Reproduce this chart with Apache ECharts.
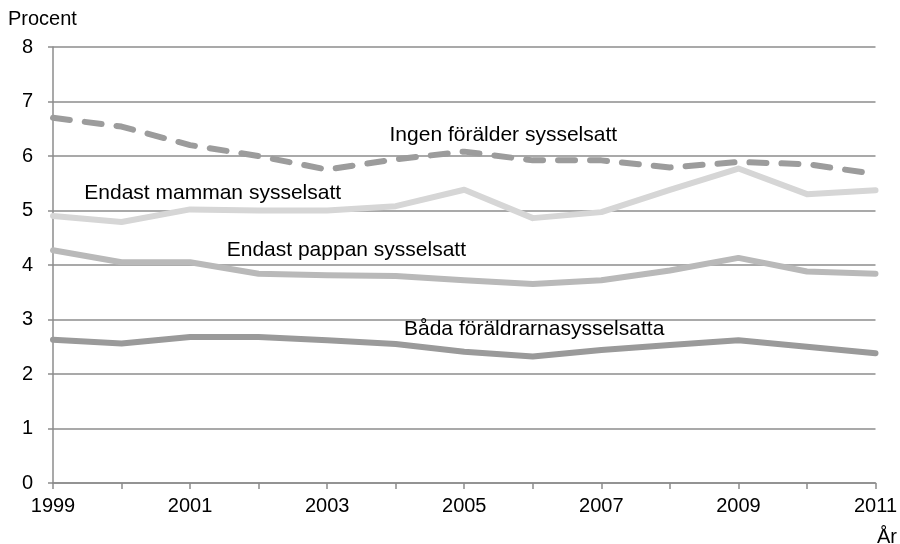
<!DOCTYPE html>
<html>
	<head>
		<meta charset="utf-8">
		<script src="https://cdn.jsdelivr.net/npm/echarts@6/dist/echarts.min.js"></script>
		<style>
			html, body { margin: 0; padding: 0; background: #fff; }
			#chart { width: 900px; height: 544px; }
		</style>
	</head>
	<body>
		<div id="chart"></div>
		<script>
			// år
			var years = [1999, 2000, 2001, 2002, 2003, 2004, 2005, 2006, 2007, 2008, 2009, 2010, 2011];
			// serier (procent)
			var ingen  = [6.70, 6.54, 6.20, 6.00, 5.75, 5.94, 6.08, 5.92, 5.92, 5.79, 5.89, 5.85, 5.67];
			var mamman = [4.90, 4.79, 5.02, 5.00, 5.00, 5.08, 5.38, 4.86, 4.97, 5.38, 5.77, 5.30, 5.37];
			var pappan = [4.27, 4.05, 4.05, 3.84, 3.81, 3.80, 3.72, 3.65, 3.72, 3.90, 4.13, 3.88, 3.84];
			var bada   = [2.63, 2.56, 2.68, 2.68, 2.62, 2.55, 2.41, 2.32, 2.44, 2.53, 2.62, 2.50, 2.38];
			var yTicks = [0, 1, 2, 3, 4, 5, 6, 7, 8];

			var names = ['Ingen förälder sysselsatt', 'Endast mamman sysselsatt', 'Endast pappan sysselsatt', 'Båda föräldrarnasysselsatta'];
			// var etiketterna står (år, procent)
			var labelAt = [[2005.57, 6.38], [2001.33, 5.32], [2003.28, 4.27], [2006.02, 2.82]];

			var font = 'Liberation Sans, Arial, sans-serif';

			function pairs(vals) {
				var out = [];
				for (var i = 0; i < years.length; i++) out.push([years[i], vals[i]]);
				return out;
			}

			function mark(i) {
				return {
					silent: true,
					symbol: 'rect',
					symbolSize: 1,
					itemStyle: { color: 'rgba(0,0,0,0)' },
					label: { show: true, position: 'inside', formatter: names[i], color: '#000', fontSize: 21, fontFamily: font },
					data: [{ coord: labelAt[i] }]
				};
			}

			function line(i, vals, color, dash) {
				return {
					name: names[i],
					type: 'line',
					data: pairs(vals),
					symbol: 'none',
					animation: false,
					lineStyle: { color: color, width: 6, type: dash ? [17, 15] : 'solid', cap: 'round', join: 'round' },
					markPoint: mark(i)
				};
			}

			var chart = echarts.init(document.getElementById('chart'));
			chart.setOption({
				animation: false,
				textStyle: { fontFamily: font },
				grid: { left: 53, right: 21, top: 47, bottom: 61 },
				xAxis: {
					type: 'value',
					min: years[0],
					max: years[years.length - 1],
					interval: 1,
					splitLine: { show: false },
					axisLine: { lineStyle: { color: '#8c8c8c', width: 1.5 } },
					axisTick: { show: true, length: 6, lineStyle: { color: '#8c8c8c', width: 1.5 } },
					axisLabel: {
						color: '#000', fontSize: 20, margin: 13,
						formatter: function (v) { return (v % 2 === 1) ? String(v) : ''; }
					}
				},
				yAxis: {
					type: 'value',
					min: yTicks[0],
					max: yTicks[yTicks.length - 1],
					interval: 1,
					splitLine: { show: true, lineStyle: { color: '#8c8c8c', width: 1.5 } },
					axisLine: { show: true, lineStyle: { color: '#8c8c8c', width: 1.5 } },
					axisTick: { show: true, length: 5, lineStyle: { color: '#8c8c8c', width: 1.5 } },
					axisLabel: { color: '#000', fontSize: 20, margin: 20 }
				},
				graphic: [
					{ type: 'text', left: 8, top: 9, style: { text: 'Procent', fill: '#000', font: '20px ' + font } },
					{ type: 'text', left: 877, top: 527, style: { text: 'År', fill: '#000', font: '20px ' + font } }
				],
				series: [
					line(0, ingen, '#9c9c9c', true),
					line(1, mamman, '#d6d6d6', false),
					line(2, pappan, '#b9b9b9', false),
					line(3, bada, '#9a9a9a', false)
				]
			});
		</script>
	</body>
</html>
